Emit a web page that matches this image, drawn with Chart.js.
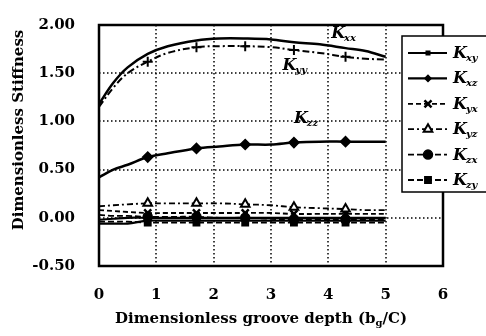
<!DOCTYPE html>
<html>
<head>
<meta charset="utf-8">
<script src="https://cdn.jsdelivr.net/npm/chart.js@4/dist/chart.umd.min.js"></script>
<style>
  html, body { margin: 0; padding: 0; background: #fff; }
  #wrap { width: 486px; height: 336px; }
</style>
</head>
<body>
<div id="wrap"><canvas id="c" width="486" height="336"></canvas></div>
<script>
// groove depth samples, markers drawn at some of them only
var depth = [0, 0.25, 0.5, 0.85, 1.2, 1.7, 2.1, 2.55, 3.0, 3.4, 3.85, 4.3, 4.65, 5.0];
var markerIdx = [3, 5, 7, 9, 11];

// direct stiffness
var kxx = [1.18, 1.40, 1.56, 1.70, 1.78, 1.84, 1.86, 1.86, 1.85, 1.82, 1.80, 1.76, 1.73, 1.67];
var kyy = [1.15, 1.35, 1.50, 1.62, 1.71, 1.77, 1.78, 1.78, 1.77, 1.74, 1.71, 1.67, 1.65, 1.64];
var kzz = [0.42, 0.50, 0.55, 0.63, 0.67, 0.72, 0.74, 0.76, 0.76, 0.78, 0.79, 0.79, 0.79, 0.79];

// cross-coupled stiffness
var kxy = [-0.06, -0.06, -0.06, -0.03, -0.03, -0.03, -0.03, -0.03, -0.03, -0.03, -0.03, -0.03, -0.03, -0.03];
var kxz = [-0.02, -0.01, 0.00, 0.00, 0.00, 0.00, 0.00, 0.00, 0.00, 0.00, 0.00, 0.00, 0.00, 0.00];
var kyx = [0.08, 0.07, 0.06, 0.05, 0.05, 0.05, 0.05, 0.05, 0.05, 0.04, 0.04, 0.04, 0.04, 0.04];
var kyz = [0.12, 0.13, 0.14, 0.15, 0.15, 0.15, 0.15, 0.14, 0.13, 0.11, 0.10, 0.09, 0.08, 0.08];
var kzx = [0.03, 0.02, 0.02, 0.01, 0.01, 0.01, 0.00, 0.00, -0.01, -0.02, -0.02, -0.02, -0.02, -0.02];
var kzy = [-0.04, -0.04, -0.04, -0.05, -0.05, -0.05, -0.05, -0.05, -0.05, -0.05, -0.05, -0.05, -0.05, -0.05];

var xTicks = [0, 1, 2, 3, 4, 5, 6];
var yTicks = [-0.5, 0, 0.5, 1.0, 1.5, 2.0];

var SERIF = '"DejaVu Serif", "Liberation Serif", serif';

function pts(vals) {
    return vals.map(function(v, i) { return { x: depth[i], y: v }; });
}

function series(label, vals, opts) {
    var r = opts.radius || 0;
    return {
        label: label,
        sub: opts.sub,
        inLegend: opts.inLegend,
        data: pts(vals),
        borderColor: '#000',
        backgroundColor: opts.hollow ? '#fff' : '#000',
        borderWidth: opts.width || 2,
        borderDash: opts.dash || [],
        pointStyle: opts.style || 'circle',
        pointRadius: depth.map(function(d, i) { return markerIdx.indexOf(i) >= 0 ? r : 0; }),
        pointBorderWidth: opts.pointBorder || 1.5,
        pointBorderColor: '#000',
        pointBackgroundColor: opts.hollow ? '#fff' : '#000',
        legendRadius: opts.legendRadius || r,
        tension: 0.35,
        fill: false
    };
}

var datasets = [
    series('Kxx', kxx, { sub: 'xx', width: 2.5 }),
    series('Kyy', kyy, { sub: 'yy', width: 2, dash: [7, 3, 2, 3], style: 'cross', radius: 5, pointBorder: 2 }),
    series('Kzz', kzz, { sub: 'zz', width: 2.5, style: 'rectRot', radius: 5 }),
    series('Kyz', kyz, { sub: 'yz', inLegend: 2, width: 1.8, dash: [6, 3, 2, 3], style: 'triangle', radius: 5, hollow: true, pointBorder: 2 }),
    series('Kyx', kyx, { sub: 'yx', inLegend: 1, width: 1.8, dash: [5, 3], style: 'crossRot', radius: 5, pointBorder: 2.5 }),
    series('Kzx', kzx, { sub: 'zx', inLegend: 3, width: 1.8, dash: [6, 3], style: 'circle', radius: 4.5 }),
    series('Kxz', kxz, { sub: 'xz', inLegend: 0.5, width: 2.2, style: 'rectRot', radius: 4.5, legendRadius: 3 }),
    series('Kzy', kzy, { sub: 'zy', inLegend: 4, width: 1.8, dash: [6, 3], style: 'rect', radius: 4.5 }),
    series('Kxy', kxy, { sub: 'xy', inLegend: 0.1, width: 2.2, style: 'rect', radius: 3, legendRadius: 2.5 })
];

// K with a subscript, italic bold
function drawK(ctx, sub, x, y, big, small) {
    ctx.save();
    ctx.fillStyle = '#000';
    ctx.textBaseline = 'alphabetic';
    ctx.textAlign = 'left';
    ctx.font = 'italic bold ' + big + 'px ' + SERIF;
    ctx.fillText('K', x, y);
    var w = ctx.measureText('K').width;
    ctx.font = 'italic bold ' + small + 'px ' + SERIF;
    ctx.fillText(sub, x + w - 1, y + 3);
    ctx.restore();
}

var decorPlugin = {
    id: 'decor',
    beforeDatasetsDraw: function(chart) {
        // dotted inner grid
        var ctx = chart.ctx, a = chart.chartArea;
        var xs = chart.scales.x, ys = chart.scales.y;
        ctx.save();
        ctx.strokeStyle = '#000';
        ctx.lineWidth = 1.5;
        ctx.setLineDash([1.5, 2.5]);
        xTicks.slice(1, -1).forEach(function(v) {
            var px = Math.round(xs.getPixelForValue(v));
            ctx.beginPath();
            ctx.moveTo(px, a.top);
            ctx.lineTo(px, a.bottom);
            ctx.stroke();
        });
        yTicks.slice(1, -1).forEach(function(v) {
            var py = Math.round(ys.getPixelForValue(v));
            ctx.beginPath();
            ctx.moveTo(a.left, py);
            ctx.lineTo(a.right, py);
            ctx.stroke();
        });
        ctx.restore();
    },
    afterDatasetsDraw: function(chart) {
        var ctx = chart.ctx, a = chart.chartArea;
        var xs = chart.scales.x, ys = chart.scales.y;
        // frame
        ctx.save();
        ctx.strokeStyle = '#000';
        ctx.lineWidth = 2.5;
        ctx.strokeRect(a.left, a.top, a.right - a.left, a.bottom - a.top);
        ctx.restore();
        // curve labels
        drawK(ctx, 'xx', xs.getPixelForValue(4.05), ys.getPixelForValue(1.86), 16, 10);
        drawK(ctx, 'yy', xs.getPixelForValue(3.2), ys.getPixelForValue(1.53), 16, 10);
        drawK(ctx, 'zz', xs.getPixelForValue(3.4), ys.getPixelForValue(0.98), 16, 10);
    },
    afterDraw: function(chart) {
        var ctx = chart.ctx;
        // legend box
        var bx = 402, by = 36, bw = 100, bh = 156;
        ctx.save();
        ctx.fillStyle = '#fff';
        ctx.fillRect(bx, by, bw, bh);
        ctx.strokeStyle = '#000';
        ctx.lineWidth = 1.5;
        ctx.strokeRect(bx, by, bw, bh);
        var items = chart.data.datasets.filter(function(d) { return d.inLegend; })
            .sort(function(p, q) { return p.inLegend - q.inLegend; });
        items.forEach(function(d, i) {
            var y = 53 + i * 25.4;
            ctx.save();
            ctx.strokeStyle = '#000';
            ctx.lineWidth = d.borderWidth;
            ctx.setLineDash(d.borderDash);
            ctx.beginPath();
            ctx.moveTo(408, y);
            ctx.lineTo(447, y);
            ctx.stroke();
            ctx.restore();
            ctx.save();
            ctx.setLineDash([]);
            ctx.strokeStyle = '#000';
            ctx.fillStyle = d.pointBackgroundColor;
            ctx.lineWidth = d.pointBorderWidth;
            Chart.helpers.drawPoint(ctx, { pointStyle: d.pointStyle, radius: d.legendRadius, borderWidth: d.pointBorderWidth, rotation: 0 }, 428, y);
            ctx.restore();
            drawK(ctx, d.sub, 453, y + 5, 16, 10);
        });
        ctx.restore();

        // axis titles
        ctx.save();
        ctx.fillStyle = '#000';
        ctx.textBaseline = 'alphabetic';
        var main = 'Dimensionless groove depth (b';
        var tail = '/C)';
        ctx.font = 'bold 15px ' + SERIF;
        var w1 = ctx.measureText(main).width, w3 = ctx.measureText(tail).width;
        ctx.font = 'bold 10px ' + SERIF;
        var w2 = ctx.measureText('g').width;
        var x0 = 261 - (w1 + w2 + w3) / 2;
        ctx.font = 'bold 15px ' + SERIF;
        ctx.textAlign = 'left';
        ctx.fillText(main, x0, 323);
        ctx.font = 'bold 10px ' + SERIF;
        ctx.fillText('g', x0 + w1, 326);
        ctx.font = 'bold 15px ' + SERIF;
        ctx.fillText(tail, x0 + w1 + w2, 323);

        ctx.translate(19, 130);
        ctx.rotate(-Math.PI / 2);
        ctx.textAlign = 'center';
        ctx.textBaseline = 'middle';
        ctx.font = 'bold 15px ' + SERIF;
        ctx.fillText('Dimensionless Stiffness', 0, 0);
        ctx.restore();
    }
};

new Chart(document.getElementById('c'), {
    type: 'line',
    data: { datasets: datasets },
    options: {
        responsive: false,
        animation: false,
        devicePixelRatio: 1,
        layout: { padding: { left: 0, right: 43, top: 16, bottom: 0 } },
        plugins: {
            legend: { display: false },
            tooltip: { enabled: false }
        },
        scales: {
            x: {
                type: 'linear',
                min: xTicks[0],
                max: xTicks[xTicks.length - 1],
                afterBuildTicks: function(s) { s.ticks = xTicks.map(function(v) { return { value: v }; }); },
                afterFit: function(s) { s.height = 70; },
                border: { display: false },
                grid: { display: false },
                ticks: {
                    padding: 12,
                    color: '#000',
                    font: { family: SERIF, size: 15, weight: 'bold' },
                    callback: function(v) { return String(v); }
                }
            },
            y: {
                min: yTicks[0],
                max: yTicks[yTicks.length - 1],
                afterBuildTicks: function(s) { s.ticks = yTicks.map(function(v) { return { value: v }; }); },
                afterFit: function(s) { s.width = 99; },
                border: { display: false },
                grid: { display: false },
                ticks: {
                    padding: 16,
                    color: '#000',
                    font: { family: SERIF, size: 15, weight: 'bold' },
                    callback: function(v) { return Number(v).toFixed(2); }
                }
            }
        }
    },
    plugins: [decorPlugin]
});
</script>
</body>
</html>
